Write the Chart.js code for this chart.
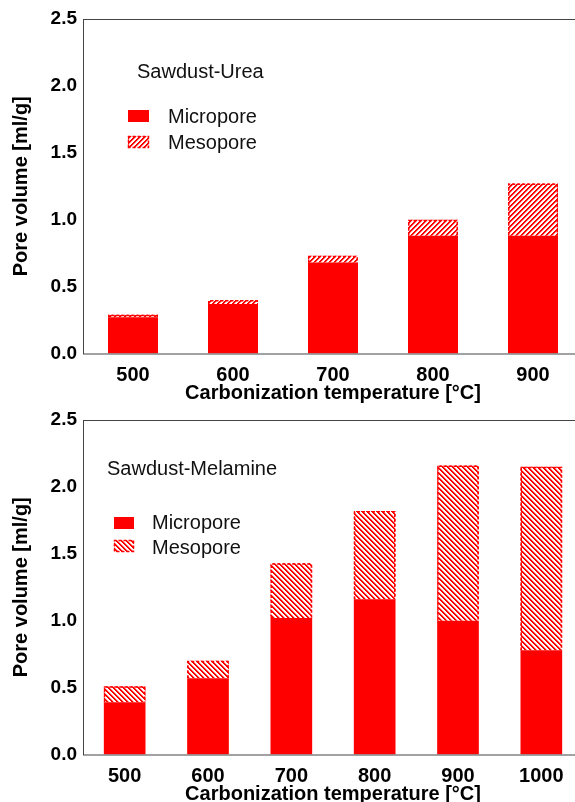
<!DOCTYPE html>
<html lang="en">
<head>
<meta charset="UTF-8">
<title>Pore volume vs carbonization temperature</title>
<script src="https://cdn.jsdelivr.net/npm/chart.js"></script>
<style>
  html, body { margin: 0; padding: 0; background: #fff; overflow: hidden; }
  body { width: 575px; height: 802px; position: relative; }
  canvas { position: absolute; left: 0; }
  #urea { top: 0; }
  #melamine { top: 400px; }
</style>
</head>
<body>
<canvas id="urea" width="583" height="406"></canvas>
<canvas id="melamine" width="583" height="407"></canvas>
<script>
// Sawdust-Urea
const ureaTemps = ['500', '600', '700', '800', '900'];
const ureaMicro = [0.27, 0.37, 0.68, 0.88, 0.88];
const ureaMeso  = [0.02, 0.03, 0.05, 0.12, 0.39];

// Sawdust-Melamine
const melTemps = ['500', '600', '700', '800', '900', '1000'];
const melMicro = [0.39, 0.57, 1.02, 1.16, 1.00, 0.78];
const melMeso  = [0.12, 0.13, 0.41, 0.66, 1.16, 1.37];

const yTicks = [0, 0.5, 1.0, 1.5, 2.0, 2.5];

const FONT = "'Liberation Sans', Arial, sans-serif";
Chart.defaults.font.family = FONT;

// diagonal red/white hatch, dir 1 = "/", dir -1 = "\"
function hatch(dir) {
  const p = 5;
  const c = document.createElement('canvas');
  c.width = p; c.height = p;
  const g = c.getContext('2d');
  const img = g.createImageData(p, p);
  for (let y = 0; y < p; y++) {
    for (let x = 0; x < p; x++) {
      const k = (((dir > 0 ? x + y : x - y) % p) + p) % p;
      const i = (y * p + x) * 4;
      const gb = k < 2 ? 0 : (k === 2 ? 170 : 255);
      img.data[i] = 255; img.data[i + 1] = gb; img.data[i + 2] = gb; img.data[i + 3] = 255;
    }
  }
  g.putImageData(img, 0, 0);
  return g.createPattern(c, 'repeat');
}

function dashedBox(ctx, l, t, w, h, bottom) {
  ctx.save();
  ctx.strokeStyle = '#ff0000';
  ctx.lineWidth = 1.5;
  ctx.setLineDash([3, 2]);
  ctx.beginPath();
  ctx.moveTo(l, t + h);
  ctx.lineTo(l, t);
  ctx.lineTo(l + w, t);
  ctx.lineTo(l + w, t + h);
  if (bottom) ctx.closePath();
  ctx.stroke();
  ctx.restore();
}

const decor = {
  id: 'decor',
  afterDatasetsDraw(chart) {
    const ctx = chart.ctx;
    chart.getDatasetMeta(1).data.forEach(el => {
      const {x, y, base, width} = el.getProps(['x', 'y', 'base', 'width'], true);
      dashedBox(ctx, x - width / 2 + 0.75, y + 0.75, width - 1.5, base - y - 0.75, false);
    });
  },
  afterDraw(chart, args, o) {
    const {ctx, chartArea: a} = chart;
    ctx.save();
    ctx.strokeStyle = '#444';
    ctx.lineWidth = 1;
    ctx.strokeRect(a.left + 0.5, a.top + 0.5, a.right - a.left, a.bottom - a.top);

    ctx.fillStyle = '#111';
    ctx.font = '20px ' + FONT;
    ctx.textBaseline = 'alphabetic';
    ctx.fillText(o.title, a.left + o.titleX, a.top + o.titleY);

    chart.data.datasets.forEach((ds, i) => {
      const sy = a.top + o.swatchY[i];
      const sx = a.left + o.swatchX;
      ctx.fillStyle = ds.backgroundColor;
      ctx.fillRect(sx, sy, o.swatchW, o.swatchH);
      if (i === 1) dashedBox(ctx, sx + 0.5, sy + 0.5, o.swatchW - 1, o.swatchH - 1, true);
      ctx.fillStyle = '#111';
      ctx.fillText(ds.label, a.left + o.textX, a.top + o.textY[i]);
    });
    ctx.restore();
  }
};

function makeChart(id, temps, micro, meso, dir, box) {
  return new Chart(document.getElementById(id), {
    type: 'bar',
    data: {
      labels: temps,
      datasets: [
        { label: 'Micropore', data: micro, backgroundColor: '#ff0000', borderWidth: 0,
          categoryPercentage: 1, barPercentage: 0.5 },
        { label: 'Mesopore', data: meso, backgroundColor: hatch(dir), borderWidth: 0,
          categoryPercentage: 1, barPercentage: 0.5 }
      ]
    },
    plugins: [decor],
    options: {
      responsive: false,
      animation: false,
      layout: { padding: { top: box.top, left: 0, right: 0, bottom: 0 } },
      plugins: {
        legend: { display: false },
        tooltip: { enabled: false },
        decor: box
      },
      scales: {
        x: {
          stacked: true,
          grid: { display: false, drawTicks: false },
          border: { display: false },
          ticks: { color: '#000', font: { size: 20, weight: 'bold' }, padding: 10 },
          title: {
            display: true, text: 'Carbonization temperature [°C]', color: '#000',
            font: { size: 20, weight: 'bold', lineHeight: 1 }, padding: { top: 0, bottom: 3 }
          },
          afterFit: s => { s.height = 52.5; }
        },
        y: {
          stacked: true,
          min: 0, max: 2.5,
          grid: { display: false, drawTicks: false },
          border: { display: false },
          afterBuildTicks: s => { s.ticks = yTicks.map(v => ({ value: v })); },
          ticks: {
            color: '#000', font: { size: 19, weight: 'bold' }, padding: 6,
            callback: v => Number(v).toFixed(1)
          },
          title: {
            display: true, text: 'Pore volume [ml/g]', color: '#000',
            font: { size: 20, weight: 'bold', lineHeight: 1 }, padding: { top: 11, bottom: 0 }
          },
          afterFit: s => { s.width = 83; }
        }
      }
    }
  });
}

makeChart('urea', ureaTemps, ureaMicro, ureaMeso, 1, {
  top: 19, title: 'Sawdust-Urea', titleX: 54, titleY: 59,
  swatchX: 45, swatchW: 21, swatchH: 12, swatchY: [91, 117],
  textX: 85, textY: [104, 130]
});

makeChart('melamine', melTemps, melMicro, melMeso, -1, {
  top: 20, title: 'Sawdust-Melamine', titleX: 24, titleY: 55,
  swatchX: 31, swatchW: 20, swatchH: 12, swatchY: [97, 120],
  textX: 69, textY: [109, 134]
});
</script>
</body>
</html>
